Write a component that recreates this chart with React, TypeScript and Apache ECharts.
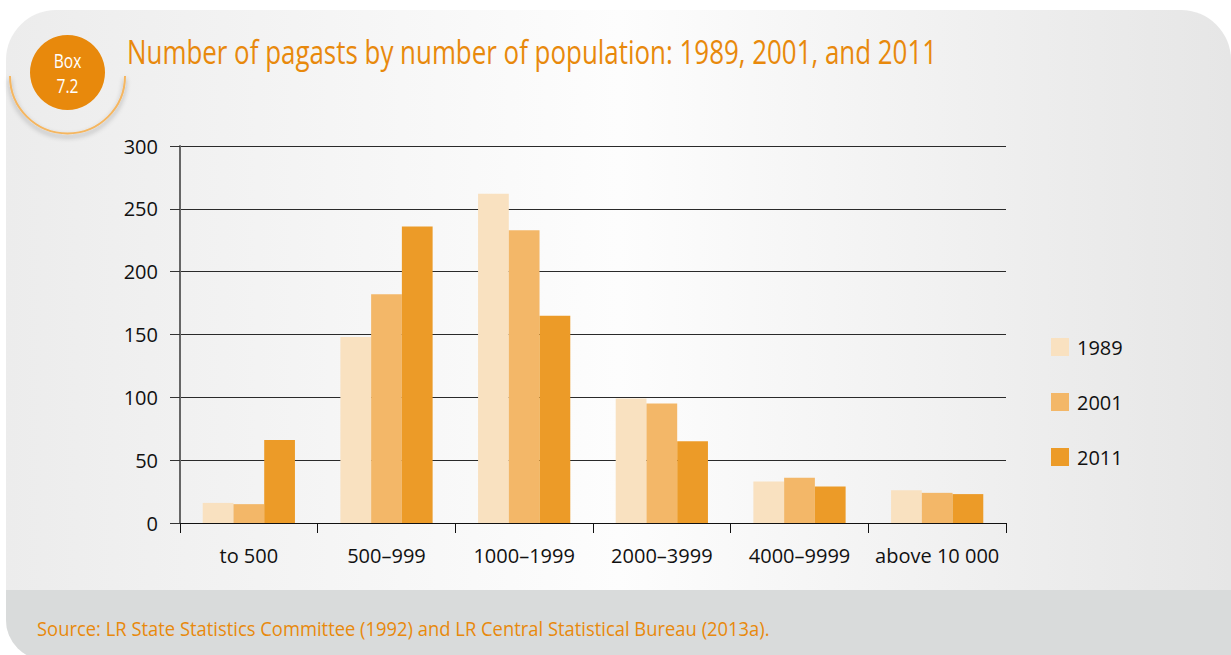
import React, { useEffect, useRef } from "react";
import * as echarts from "echarts";

const categories = ["to 500", "500–999", "1000–1999", "2000–3999", "4000–9999", "above 10 000"];
const seriesNames = ["1989", "2001", "2011"];
const values1989 = [16, 148, 262, 99, 33, 26];
const values2001 = [15, 182, 233, 95, 36, 24];
const values2011 = [66, 236, 165, 65, 29, 23];
const seriesColors = ["#F9E1C0", "#F3B768", "#EC9B28"];

const titleText = "Number of pagasts by number of population: 1989, 2001, and 2011";
const sourceText = "Source: LR State Statistics Committee (1992) and LR Central Statistical Bureau (2013a).";

const ORANGE = "#E8890C";
const FONT = "'Open Sans', sans-serif";

export default function App() {
  const ref = useRef<HTMLDivElement>(null);

  useEffect(() => {
    if (!ref.current) return;
    const chart = echarts.init(ref.current, null, { renderer: "svg" });
    const allValues = [values1989, values2001, values2011];

    chart.setOption({
      animation: false,
      backgroundColor: "#ffffff",
      grid: { left: 180, right: 225, top: 146, bottom: 132 },
      legend: {
        orient: "vertical",
        left: 1051,
        top: 337,
        padding: 0,
        itemWidth: 18,
        itemHeight: 18,
        itemGap: 35,
        icon: "rect",
        textStyle: { fontFamily: FONT, fontSize: 20, color: "#111", padding: [0, 0, 0, 3] },
        data: seriesNames,
      },
      xAxis: {
        type: "category",
        data: categories,
        axisLine: { lineStyle: { color: "#111", width: 1 } },
        axisTick: { show: true, length: 10, lineStyle: { color: "#111" } },
        axisLabel: { fontFamily: FONT, fontSize: 20, color: "#111", margin: 22, interval: 0 },
      },
      yAxis: {
        type: "value",
        min: 0,
        max: 300,
        interval: 50,
        axisLine: { show: true, lineStyle: { color: "#666", width: 2 } },
        axisTick: { show: true, length: 10, lineStyle: { color: "#333" } },
        axisLabel: { fontFamily: FONT, fontSize: 20, color: "#111", margin: 22 },
        splitLine: { lineStyle: { color: "#2a2a2a", width: 1 } },
      },
      series: seriesNames.map((name, i) => ({
        name,
        type: "bar",
        data: allValues[i],
        itemStyle: { color: seriesColors[i] },
        barGap: "0%",
        barCategoryGap: "33%",
      })),
      graphic: [
        // panel background
        {
          type: "rect",
          z: -10,
          shape: { x: 6, y: 10, width: 1225, height: 650, r: [50, 50, 0, 40] },
          style: {
            fill: new echarts.graphic.LinearGradient(0, 0, 1, 0, [
              { offset: 0, color: "#ececec" },
              { offset: 0.5, color: "#fdfdfd" },
              { offset: 1, color: "#e6e6e6" },
            ]),
          },
        },
        // source band
        {
          type: "rect",
          z: -9,
          shape: { x: 6, y: 590, width: 1225, height: 70, r: [0, 0, 0, 40] },
          style: { fill: "#d9dbdb" },
        },
        // heading rule with shadow
        {
          type: "line",
          z: 5,
          shape: { x1: 124, y1: 76, x2: 1204, y2: 76 },
          style: {
            stroke: "#F5B660",
            lineWidth: 2,
            shadowColor: "rgba(0,0,0,0.35)",
            shadowBlur: 5,
            shadowOffsetY: 3,
          },
        },
        {
          type: "arc",
          z: 5,
          shape: { cx: 67.5, cy: 76, r: 57.5, startAngle: 0, endAngle: Math.PI, clockwise: true },
          style: {
            stroke: "#F5B660",
            lineWidth: 2,
            fill: "none",
            shadowColor: "rgba(0,0,0,0.35)",
            shadowBlur: 5,
            shadowOffsetY: 3,
          },
        },
        {
          type: "circle",
          z: 6,
          shape: { cx: 67.5, cy: 72.5, r: 37.5 },
          style: { fill: ORANGE },
        },
        {
          type: "text",
          z: 7,
          x: 67.5,
          y: 60,
          scaleX: 0.78,
          style: {
            text: "Box",
            fill: "#ffffff",
            font: `20px ${FONT}`,
            align: "center",
            verticalAlign: "middle",
          },
        },
        {
          type: "text",
          z: 7,
          x: 67.5,
          y: 85,
          scaleX: 0.78,
          style: {
            text: "7.2",
            fill: "#ffffff",
            font: `20px ${FONT}`,
            align: "center",
            verticalAlign: "middle",
          },
        },
        {
          type: "text",
          z: 7,
          x: 127,
          y: 52,
          scaleX: 0.81,
          style: {
            text: titleText,
            fill: ORANGE,
            font: `32px ${FONT}`,
            align: "left",
            verticalAlign: "middle",
          },
        },
        {
          type: "text",
          z: 7,
          x: 37,
          y: 628,
          scaleX: 0.92,
          style: {
            text: sourceText,
            fill: ORANGE,
            font: `20px ${FONT}`,
            align: "left",
            verticalAlign: "middle",
          },
        },
      ],
    });

    return () => chart.dispose();
  }, []);

  return (
    <div
      ref={ref}
      style={{ position: "absolute", left: 0, top: 0, width: 1231, height: 655 }}
    />
  );
}
